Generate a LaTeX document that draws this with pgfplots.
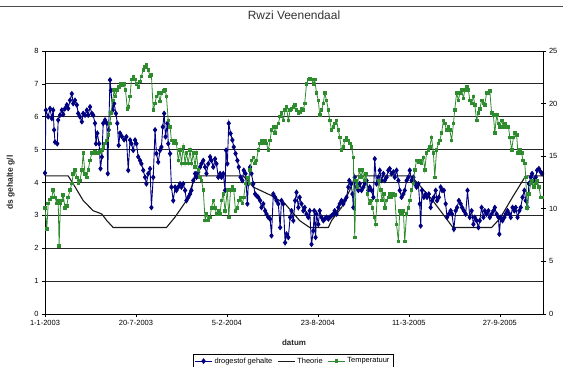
\documentclass[border=0pt]{standalone}
\usepackage{pgfplots}
\pgfplotsset{compat=1.18}
\usepackage{fontspec}
\setmainfont{Liberation Sans}
\definecolor{dsblue}{HTML}{000080}
\definecolor{tgreen}{HTML}{2E8B2E}
\definecolor{gridc}{HTML}{262626}
\begin{document}
\begin{tikzpicture}
\useasboundingbox (0bp,0bp) rectangle (563bp,367bp);
\fill[white] (0bp,0bp) rectangle (563bp,367bp);
\draw[black!70, line width=1bp] (0bp,360bp) -- (563bp,360bp);
\begin{axis}[
  at={(45bp,53bp)}, anchor=south west, scale only axis,
  width=498bp, height=263bp,
  xmin=0, xmax=1095, ymin=0, ymax=8,
  ytick={0,1,...,8},
  xtick={0,200,400,600,800,1000},
  xticklabels={1-1-2003,20-7-2003,5-2-2004,23-8-2004,11-3-2005,27-9-2005},
  ymajorgrids, grid style={gridc, line width=0.8bp},
  axis line style={black, line width=0.7bp},
  tick style={black, line width=0.6bp},
  tick align=outside, major tick length=3bp,
  xtick pos=bottom, ytick pos=left,
  /pgf/number format/assume math mode=true,
  tick label style={font=\fontsize{7.5}{9}\selectfont},
  title={Rwzi Veenendaal},
  title style={font=\fontsize{12}{14}\selectfont, text=black!80, at={(axis description cs:0.5,1)}, anchor=base, yshift=26bp},
  xlabel={datum},
  xlabel style={font=\fontsize{8}{10}\selectfont\bfseries, text=black!85, at={(axis description cs:0.5,0)}, anchor=base, yshift=-31bp},
  ylabel={ds gehalte g/l},
  ylabel style={font=\fontsize{8.5}{10}\selectfont\bfseries, text=black!85, at={(axis description cs:-0.054,0.5)}, anchor=south},
]
\addplot[black!90, line width=1.1bp, no marks] coordinates {
(0,4.2) (51,4.2) (62,3.96) (84,3.45) (106,3.14) (118,3.08) (125,3.04) (136,2.84) (150,2.63)
(267,2.63) (286,2.95) (311,3.45) (330,4.16) (335,4.2) (436,4.2) (458,3.86) (498,3.6) (528,3.35)
(560,2.84) (582,2.63) (623,2.63) (630,2.84) (652,3.24) (670,3.76) (681,4.16) (685,4.2)
(805,4.2) (850,3.5) (897,2.63) (982,2.63) (1000,2.9) (1030,3.6) (1055,4.16) (1060,4.2) (1095,4.2)
};
\addplot[dsblue, line width=0.9bp, mark=diamond*, mark size=2.2bp, mark options={solid, fill=dsblue}] coordinates {
(0,4.29) (2,6.2) (7,6.0) (11,6.25) (15,5.95) (18,6.2) (20,5.6) (22,5.23) (27,5.18) (29,5.9)
(33,6.05) (37,6.2) (40,6.07) (44,6.25) (48,6.36) (51,6.25) (55,6.5) (59,6.7) (62,6.4) (66,6.5)
(70,6.36) (73,6.1) (77,6.0) (81,5.85) (84,6.1) (88,6.05) (92,6.2) (95,6.05) (99,6.3) (103,6.1)
(106,6.05) (110,5.8) (112,5.18) (115,5.5) (119,5.18) (122,4.42) (125,4.78) (128,5.8) (132,5.9)
(136,5.8) (138,4.27) (140,5.6) (143,7.12) (145,6.8) (149,6.2) (152,6.4) (156,6.1) (159,5.8)
(162,5.13) (165,5.5) (169,5.4) (174,5.3) (179,5.39) (183,4.37) (187,5.29) (190,5.18) (194,4.98)
(198,5.29) (201,5.18) (205,4.78) (209,4.67) (212,4.57) (216,4.37) (220,4.16) (223,3.96) (227,4.27)
(231,4.42) (234,3.24) (238,4.16) (242,5.6) (245,4.88) (249,4.62) (253,4.98) (256,5.08) (259,5.69)
(262,6.1) (265,5.39) (269,5.8) (271,5.18) (275,4.88) (278,3.86) (282,3.45) (286,3.86) (289,3.76)
(293,3.86) (297,3.96) (300,3.86) (304,3.96) (308,3.76) (311,3.45) (315,3.55) (319,3.65) (322,3.76)
(326,4.06) (330,4.27) (333,4.16) (337,4.32) (341,4.47) (344,4.57) (348,4.67) (352,4.47) (355,4.27)
(359,4.57) (363,4.78) (366,4.67) (370,4.47) (374,4.72) (377,4.57) (381,4.16) (385,4.27) (388,4.16)
(392,4.27) (396,3.76) (398,4.98) (401,4.57) (404,5.8) (408,5.49) (412,5.29) (415,5.08) (419,4.88)
(423,4.67) (426,4.47) (430,4.16) (434,4.06) (437,4.37) (441,4.27) (445,3.35) (447,3.96) (451,4.47)
(454,4.27) (458,3.96) (462,3.65) (465,3.6) (469,3.55) (473,3.45) (476,3.24) (480,3.35) (484,3.14)
(487,3.04) (491,2.94) (495,2.89) (498,2.38) (502,3.65) (506,3.55) (509,3.45) (513,3.35) (517,2.63)
(520,3.45) (524,3.35) (528,2.17) (531,2.43) (535,2.33) (539,2.94) (542,3.14) (546,2.84) (550,3.45)
(553,3.7) (557,3.24) (560,3.55) (564,3.35) (568,3.14) (571,3.24) (575,3.04) (579,2.94) (582,3.14)
(586,2.12) (590,2.53) (592,3.14) (595,2.33) (597,3.04) (601,2.73) (604,3.14) (608,2.94) (612,2.84)
(615,2.89) (619,2.94) (623,2.89) (626,2.94) (630,2.99) (634,3.04) (637,3.14) (641,3.04) (645,3.24)
(648,3.35) (652,3.45) (656,3.35) (659,3.45) (663,3.55) (667,3.86) (669,4.06) (673,3.96) (676,3.65)
(678,3.24) (681,4.16) (685,3.86) (689,3.76) (692,3.96) (696,3.76) (700,3.86) (703,3.96) (707,4.06)
(711,3.76) (714,3.86) (718,3.76) (722,3.55) (725,4.72) (729,3.96) (733,4.16) (736,4.37) (740,4.06)
(744,4.27) (747,4.06) (751,4.16) (755,4.37) (758,4.42) (762,4.27) (766,4.32) (769,4.16) (773,4.37)
(777,4.06) (780,3.76) (784,3.55) (788,3.65) (791,3.76) (795,4.06) (799,4.16) (802,4.37) (806,4.06)
(810,4.16) (813,3.96) (817,3.86) (821,3.96) (824,3.35) (826,2.68) (829,3.76) (833,3.55) (837,3.65)
(840,3.55) (844,3.65) (848,3.24) (851,3.45) (855,3.55) (859,3.76) (862,3.45) (866,3.55) (870,3.86)
(873,3.76) (877,3.76) (881,3.35) (884,2.94) (888,3.04) (892,3.14) (895,3.04) (899,2.58) (903,3.14)
(906,3.24) (910,3.45) (914,3.35) (917,3.24) (921,3.14) (925,3.04) (929,3.76) (934,2.94) (938,3.14)
(942,2.73) (945,2.94) (949,2.84) (953,2.63) (956,2.84) (960,3.24) (964,2.94) (967,3.14) (971,3.04)
(975,3.14) (978,2.94) (982,3.04) (986,3.14) (989,3.24) (993,3.04) (997,2.94) (999,2.43) (1002,2.94)
(1006,2.84) (1010,2.94) (1013,3.04) (1017,3.14) (1021,3.04) (1024,2.94) (1028,3.24) (1032,3.14)
(1035,3.24) (1039,2.94) (1043,3.14) (1046,3.24) (1050,3.55) (1054,3.76) (1057,3.45) (1061,3.24)
(1064,3.96) (1068,4.16) (1071,4.27) (1075,4.06) (1079,4.16) (1082,4.37) (1086,4.42) (1090,4.32) (1093,4.27)
};
\end{axis}
\begin{axis}[
  at={(45bp,53bp)}, anchor=south west, scale only axis,
  width=498bp, height=263bp,
  xmin=0, xmax=1095, ymin=0, ymax=25,
  axis x line=none, axis y line*=right,
  ytick={0,5,...,25},
  axis line style={black, line width=0.7bp},
  tick style={black, line width=0.6bp},
  tick align=center, major tick length=5bp,
  /pgf/number format/assume math mode=true,
  tick label style={font=\fontsize{7.5}{9}\selectfont},
  legend style={at={(0.498,-0.179)}, anchor=center, legend columns=3, draw=black, line width=0.6bp,
    font=\fontsize{7.5}{9}\selectfont, inner sep=1.5bp,
    /tikz/every even column/.append style={column sep=3bp}},
  legend cell align=left,
]
\addlegendimage{dsblue, line width=0.9bp, mark=diamond*, mark size=2.2bp, mark options={solid, fill=dsblue}}
\addlegendentry{drogestof gehalte}
\addlegendimage{black!90, line width=1.1bp, no marks}
\addlegendentry{Theorie}
\addplot[tgreen, line width=0.8bp, mark=square*, mark size=1.3bp, mark options={solid, fill=tgreen}] coordinates {
(0,10.1) (4,8.1) (7,10.5) (11,10.9) (15,11.1) (18,11.8) (22,11.1) (26,10.5) (29,10.8) (31,6.5)
(34,10.5) (37,10.8) (40,11.3) (44,10.1) (48,10.3) (51,11.1) (55,11.8) (59,12.4) (62,13.3) (66,13.7)
(70,13.0) (73,12.4) (77,12.7) (81,13.7) (84,15.3) (88,13.3) (92,13.0) (95,13.7) (99,14.6) (103,15.3)
(106,15.3) (110,15.4) (114,15.3) (117,15.3) (121,15.4) (125,15.6) (128,15.9) (132,16.2) (136,16.5)
(139,17.0) (143,18.1) (145,19.1) (149,20.3) (152,21.3) (155,20.7) (159,21.3) (163,21.6) (166,21.9)
(170,21.8) (174,21.9) (177,21.3) (181,19.5) (183,19.7) (187,20.7) (190,22.3) (194,22.6) (198,22.3)
(201,21.9) (205,21.6) (209,22.1) (212,22.6) (216,23.2) (220,23.5) (223,23.7) (227,23.2) (231,22.6)
(234,22.7) (238,19.4) (242,20.0) (245,20.7) (249,21.0) (253,20.2) (256,21.0) (260,21.2) (264,21.3)
(267,20.7) (271,18.4) (275,17.8) (278,16.5) (282,16.2) (286,16.5) (289,16.2) (293,14.6) (297,15.6)
(300,14.3) (304,15.9) (308,14.3) (311,15.3) (315,14.3) (319,15.6) (322,14.3) (326,15.3) (330,14.0)
(333,15.3) (337,13.7) (341,13.0) (344,12.7) (348,11.8) (352,8.9) (355,9.5) (359,8.9) (363,9.2)
(366,10.1) (370,10.8) (374,10.1) (377,9.5) (381,9.8) (385,9.5) (388,10.8) (392,11.4) (396,9.8)
(401,11.8) (404,9.2) (408,11.8) (412,12.1) (415,11.8) (419,9.8) (423,10.1) (426,10.8) (430,11.1)
(434,10.5) (437,11.1) (441,12.4) (445,13.0) (449,12.4) (451,13.7) (454,14.6) (458,14.9) (462,14.3)
(465,14.6) (469,15.6) (473,16.2) (476,16.5) (480,16.2) (484,16.5) (487,16.2) (491,15.6) (495,16.5)
(498,17.5) (502,17.8) (506,17.2) (509,17.8) (513,18.1) (517,18.8) (520,19.1) (524,18.4) (528,19.4)
(531,19.7) (535,18.4) (539,19.4) (542,19.5) (546,19.7) (550,19.9) (553,19.4) (557,19.1) (560,19.2)
(564,19.5) (568,19.4) (571,20.0) (575,21.9) (579,22.3) (582,22.4) (586,22.3) (590,21.9) (593,22.3)
(597,21.0) (601,20.3) (604,18.9) (608,19.4) (612,20.0) (615,21.0) (619,20.3) (623,19.4) (626,18.4)
(630,17.5) (634,17.8) (637,18.1) (641,18.4) (645,17.5) (648,16.8) (652,15.6) (656,15.9) (659,16.5)
(663,16.8) (667,16.5) (670,16.2) (674,15.9) (678,14.9) (681,7.3) (684,12.7) (687,12.1) (691,13.7)
(695,13.0) (698,13.7) (702,12.7) (706,13.3) (709,11.4) (713,10.5) (717,10.8) (720,10.1) (724,9.2)
(727,8.5) (730,10.8) (734,12.7) (738,11.8) (741,10.8) (745,11.4) (747,10.1) (751,10.8) (755,11.1)
(758,11.4) (762,11.1) (766,11.4) (769,11.3) (773,8.5) (777,6.9) (780,9.8) (784,9.5) (788,9.8)
(791,6.9) (795,9.5) (799,10.1) (802,10.8) (806,11.8) (810,12.4) (813,13.7) (817,14.6) (821,14.4)
(824,14.6) (828,14.3) (832,14.9) (835,13.7) (839,15.3) (843,15.6) (846,15.9) (850,16.8) (854,15.3)
(857,13.0) (861,15.6) (865,16.2) (868,16.5) (872,17.2) (876,18.4) (879,18.1) (883,17.5) (887,17.8)
(890,17.5) (894,16.5) (898,18.1) (901,19.4) (905,21.0) (909,20.3) (912,21.0) (916,21.3) (920,20.5)
(923,21.3) (927,21.6) (931,21.3) (934,20.3) (938,20.0) (942,20.7) (945,19.9) (949,18.4) (953,19.1)
(956,19.5) (960,20.3) (964,20.0) (967,19.9) (971,21.0) (975,21.0) (978,21.2) (982,19.1) (986,18.9)
(989,17.2) (993,18.9) (997,18.1) (1000,17.8) (1004,18.4) (1008,17.8) (1011,18.1) (1015,17.8)
(1019,17.8) (1022,16.8) (1026,15.6) (1030,16.8) (1033,17.2) (1037,17.0) (1040,15.3) (1044,15.6)
(1048,15.3) (1051,14.6) (1055,14.3) (1057,13.0) (1060,10.1) (1064,11.4) (1068,12.4) (1071,12.7)
(1075,12.1) (1079,12.4) (1082,12.7) (1086,12.1) (1090,11.1) (1093,11.1)
};
\addlegendentry{Temperatuur}
\end{axis}
\end{tikzpicture}
\end{document}
